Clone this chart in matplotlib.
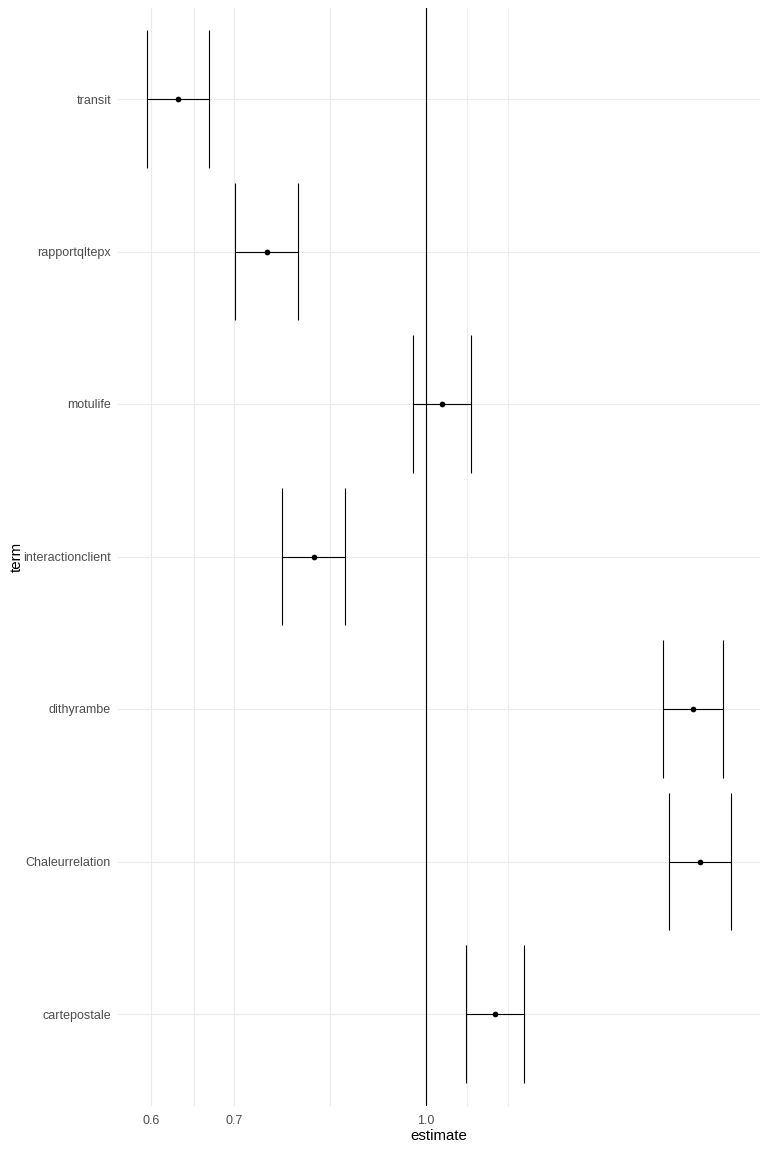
import numpy as np
import matplotlib.pyplot as plt
from matplotlib.ticker import FixedLocator, NullFormatter

plt.rcParams['font.family'] = ['Liberation Sans', 'DejaVu Sans']

# data (bottom to top)
terms = ['cartepostale', 'Chaleurrelation', 'dithyrambe', 'interactionclient',
         'motulife', 'rapportqltepx', 'transit']
estimate = [1.137, 1.664, 1.642, 0.812, 1.030, 0.744, 0.631]
conf_low = [1.077, 1.571, 1.553, 0.765, 0.976, 0.701, 0.596]
conf_high = [1.200, 1.762, 1.736, 0.860, 1.087, 0.788, 0.668]

major_breaks = [0.6, 0.7, 1.0]
major_labels = ['0.6', '0.7', '1.0']
minor_breaks = [0.650, 0.837, 1.079, 1.165]

fig = plt.figure(figsize=(7.68, 11.52), dpi=100)
ax = fig.add_axes([118 / 768, 1 - 1105.5 / 1152, (760 - 118) / 768, (1105.5 - 7.5) / 1152])

ypos = np.arange(1, len(terms) + 1)
lw = 0.8
cap = 0.45

ax.hlines(ypos, conf_low, conf_high, color='black', lw=lw, zorder=3)
ax.vlines(conf_low, ypos - cap, ypos + cap, color='black', lw=lw, zorder=3)
ax.vlines(conf_high, ypos - cap, ypos + cap, color='black', lw=lw, zorder=3)
ax.scatter(estimate, ypos, s=17, color='black', zorder=4, linewidths=0)
ax.axvline(1.0, color='black', lw=lw, zorder=2)

ax.set_xscale('log')
lo, hi = np.log(min(conf_low)), np.log(max(conf_high))
pad = 0.05 * (hi - lo)
ax.set_xlim(np.exp(lo - pad), np.exp(hi + pad))
ax.set_ylim(0.4, len(terms) + 0.6)

ax.xaxis.set_major_locator(FixedLocator(major_breaks))
ax.set_xticklabels(major_labels)
ax.xaxis.set_minor_locator(FixedLocator(minor_breaks))
ax.xaxis.set_minor_formatter(NullFormatter())
ax.set_yticks(ypos)
ax.set_yticklabels(terms)

ax.grid(True, which='major', color='#EBEBEB', lw=0.8, zorder=0)
ax.grid(True, which='minor', axis='x', color='#EBEBEB', lw=0.8, zorder=0)
ax.set_axisbelow(True)

for s in ax.spines.values():
    s.set_visible(False)
ax.tick_params(which='both', length=0, labelsize=9, labelcolor='#4D4D4D')
ax.tick_params(axis='x', pad=6.5)
ax.tick_params(axis='y', pad=5)

ax.set_xlabel('estimate', fontsize=10.8, color='black', labelpad=2)
ax.set_ylabel('term', fontsize=10.8, color='black', labelpad=0)

fig.savefig('out.png', dpi=100)
